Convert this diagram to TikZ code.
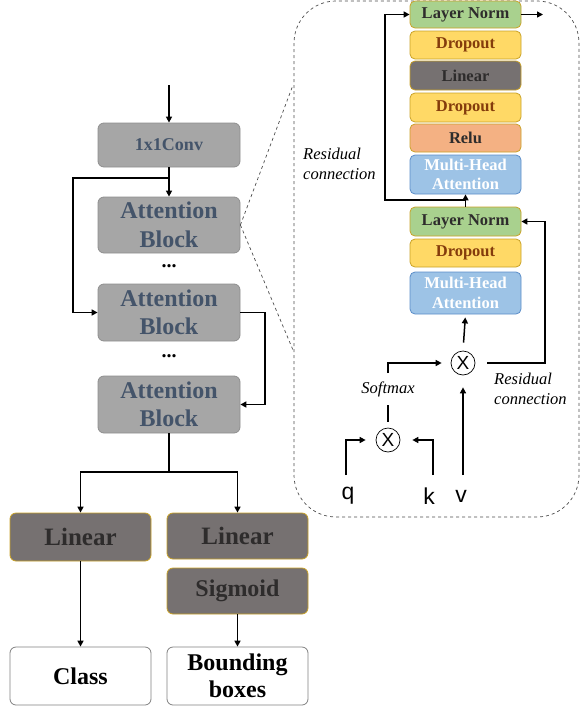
\documentclass[tikz,border=0pt]{standalone}
\usepackage{fontspec}
\setmainfont{Liberation Serif}
\newfontfamily\qkvfont{Liberation Sans}
\usetikzlibrary{arrows.meta,calc}
\definecolor{gfill}{HTML}{A6A6A6}
\definecolor{gdraw}{HTML}{8F8F8F}
\definecolor{gtext}{HTML}{44546A}
\definecolor{dfill}{HTML}{767171}
\definecolor{gold}{HTML}{C9A227}
\definecolor{dtext}{HTML}{2E2C2C}
\definecolor{green1}{HTML}{A9D18E}
\definecolor{yel}{HTML}{FFD966}
\definecolor{brown1}{HTML}{843C0C}
\definecolor{oran}{HTML}{F4B183}
\definecolor{blue1}{HTML}{9DC3E6}
\definecolor{blued}{HTML}{5B8DC8}
\tikzset{
  x=1pt,y=-1pt,
  base/.style={rounded corners=6pt,inner sep=0pt,align=center,font=\bfseries,line width=0.8pt},
  graybox/.style={base,fill=gfill,draw=gdraw,text=gtext,minimum width=142pt},
  darkbox/.style={base,fill=dfill,draw=gold,text=dtext,minimum width=141pt},
  whitebox/.style={base,fill=white,draw=gray,text=black,minimum width=141pt},
  rbox/.style={base,minimum width=111pt,draw=gold,rounded corners=5pt},
  lnbox/.style={rbox,fill=green1,text=dtext},
  dropbox/.style={rbox,fill=yel,text=brown1},
  linbox/.style={rbox,fill=dfill,text=dtext},
  relubox/.style={rbox,fill=oran,text=dtext},
  mhabox/.style={rbox,fill=blue1,draw=blued,text=white},
  arr/.style={line width=1.5pt,-{Triangle[length=6pt,width=6pt]}},
  ln/.style={line width=1.5pt},
  otimes/.style={circle,draw,line width=0.7pt,minimum size=24pt,inner sep=0pt,font=\qkvfont\fontsize{19}{19}\selectfont},
  ital/.style={font=\itshape\fontsize{16.5}{19.5}\selectfont,align=left,inner sep=0pt},
  zoomln/.style={dashed,line width=0.7pt,draw=black!70},
  rfont/.style={font=\bfseries\fontsize{16.5}{16.5}\selectfont},
  mfont/.style={font=\bfseries\fontsize{16.5}{19.5}\selectfont},
  afont/.style={font=\bfseries\fontsize{24}{28.5}\selectfont},
}
\begin{document}
\begin{tikzpicture}
\useasboundingbox (0,0) rectangle (581,710);
% big dashed region
\draw[zoomln,rounded corners=42pt] (294,1) rectangle (579,517);
% left column
\node[graybox,minimum height=44pt,font=\bfseries\fontsize{18}{18}\selectfont] (conv) at (169,145) {1x1Conv};
\node[graybox,minimum height=56pt,afont] (b1) at (169,225) {Attention\\Block};
\node[font=\bfseries\fontsize{20}{20}\selectfont] (d1) at (169,266) {...};
\node[graybox,minimum height=57pt,afont] (b2) at (169,312.5) {Attention\\Block};
\node[font=\bfseries\fontsize{20}{20}\selectfont] (d2) at (169,356) {...};
\node[graybox,minimum height=57pt,afont] (b3) at (169,404.5) {Attention\\Block};
\node[darkbox,minimum height=48pt,font=\bfseries\fontsize{25}{25}\selectfont] (lin1) at (80.5,537) {Linear};
\node[darkbox,minimum height=46pt,font=\bfseries\fontsize{25}{25}\selectfont] (lin2) at (237.5,536) {Linear};
\node[darkbox,minimum height=46pt,font=\bfseries\fontsize{24}{24}\selectfont] (sig) at (237.5,591) {Sigmoid};
\node[whitebox,minimum height=58pt,font=\bfseries\fontsize{24}{24}\selectfont] (cls) at (80.5,676) {Class};
\node[whitebox,minimum height=58pt,font=\bfseries\fontsize{24}{27}\selectfont] (bb) at (237.5,676) {Bounding\\boxes};
\coordinate (in) at (169,85);
\coordinate (br1) at (169,178);
\coordinate (r1) at (73,178);
\coordinate (r2) at (265,312.5);
\coordinate (split) at (169,472);
\draw[arr] (in) -- (conv.north);
\draw[arr] (conv.south) -- (b1.north);
\draw[arr] (br1) -- (r1) |- (b2.west);
\draw[arr] (b2.east) -- (r2) |- (b3.east);
\draw[ln] (b3.south) -- (split);
\draw[arr] (split) -| (lin1.north);
\draw[arr] (split) -| (lin2.north);
\draw[arr] (lin1.south) -- (cls.north);
\draw[arr] (sig.south) -- (bb.north);
% zoom lines
\coordinate (zt) at (293,85);
\coordinate (zb) at (293,350);
\draw[zoomln] (b1.east) -- (zt);
\draw[zoomln] (b1.east) -- (zb);
% right column
\node[lnbox,minimum height=27pt,rfont] (ln1) at (465.5,14.5) {Layer Norm};
\node[dropbox,minimum height=28pt,rfont] (dr1) at (465.5,45) {Dropout};
\node[linbox,minimum height=29pt,rfont] (lnr) at (465.5,75.5) {Linear};
\node[dropbox,minimum height=29pt,rfont] (dr2) at (465.5,107.5) {Dropout};
\node[relubox,minimum height=28pt,rfont] (relu) at (465.5,138) {Relu};
\node[mhabox,minimum height=39pt,mfont] (mha1) at (465.5,174.5) {Multi-Head\\Attention};
\node[lnbox,minimum height=29pt,rfont] (ln2) at (465.5,221.5) {Layer Norm};
\node[dropbox,minimum height=28pt,rfont] (dr3) at (465.5,253) {Dropout};
\node[mhabox,minimum height=42pt,mfont] (mha2) at (465.5,293) {Multi-Head\\Attention};
\node[otimes] (ox1) at (463,363) {X};
\node[otimes] (ox2) at (388,440) {X};
\node[ital,anchor=center] (sm) at (388,389) {Softmax};
\node[ital,anchor=north west] (res1) at (303,148) {Residual\\connection};
\node[ital,anchor=north west] (res2) at (494,373) {Residual\\connection};
\node[font=\qkvfont\fontsize{23}{23}\selectfont,inner sep=0pt] (q) at (348,496) {q};
\node[font=\qkvfont\fontsize{23}{23}\selectfont,inner sep=0pt] (k) at (429,496) {k};
\node[font=\qkvfont\fontsize{23}{23}\selectfont,inner sep=0pt] (v) at (461,496) {v};
\coordinate (rb) at (465.5,200);
\coordinate (rl) at (385,200);
\coordinate (out) at (543,14.5);
\coordinate (rr) at (545,363);
\coordinate (qs) at (346,475);
\coordinate (ks) at (433,475);
\coordinate (vs) at (463,475);
\draw[arr] (ln2.north) -- (mha1.south);
\draw[arr] (rb) -- (rl) |- (ln1.west);
\draw[arr] (ln1.east) -- (out);
\draw[arr,shorten <=12pt] (ox1.east) -- (rr) |- (ln2.east);
\draw[arr,shorten <=8pt,shorten >=3pt] (ox1.north) -- (mha2.south);
\draw[arr,shorten >=12pt] (vs) -- (ox1.south);
\draw[arr,shorten >=10pt] (qs) |- (ox2.west);
\draw[arr,shorten >=12pt] (ks) |- (ox2.east);
\draw[ln,shorten <=6pt,shorten >=8pt] (ox2.north) -- (sm.south);
\draw[arr,shorten <=8pt,shorten >=9pt] (sm.north) |- (ox1.west);
\end{tikzpicture}
\end{document}
